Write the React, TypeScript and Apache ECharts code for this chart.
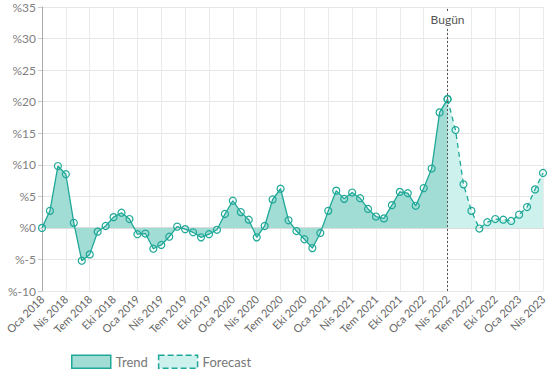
import React, { useEffect, useRef } from "react";
import * as echarts from "echarts";

const monthNames = ["Oca", "Şub", "Mar", "Nis", "May", "Haz", "Tem", "Ağu", "Eyl", "Eki", "Kas", "Ara"];
const categories: string[] = [];
for (let y = 2018; y <= 2023; y++) {
  for (let m = 0; m < 12; m++) {
    if (y === 2023 && m > 3) break;
    categories.push(`${monthNames[m]} ${y}`);
  }
}

const trendValues: number[] = [
  0, 2.7, 9.8, 8.5, 0.8, -5.2, -4.2, -0.6, 0.3, 1.7, 2.4, 1.4,
  -1.0, -0.9, -3.3, -2.7, -1.4, 0.2, -0.2, -0.7, -1.5, -1.0, -0.3, 2.2,
  4.3, 2.5, 1.3, -1.5, 0.3, 4.5, 6.2, 1.2, -0.5, -1.8, -3.2, -0.8,
  2.7, 5.9, 4.6, 5.6, 4.7, 3.0, 1.8, 1.5, 3.6, 5.7, 5.5, 3.5,
  6.3, 9.4, 18.3, 20.4,
];
const forecastValues: number[] = [
  20.4, 15.5, 6.9, 2.7, -0.1, 0.9, 1.4, 1.3, 1.1, 2.1, 3.3, 6.1, 8.7,
];
const todayLabel = "Nis 2022";
const yTicks = { min: -10, max: 35, interval: 5 };

const LINE = "#1fa898";
const TREND_FILL = "#a2ddd5";
const FORECAST_FILL = "#cdf1ec";
const FONT = "Lato";

export default function App() {
  const ref = useRef<HTMLDivElement>(null);
  useEffect(() => {
    if (!ref.current) return;
    const chart = echarts.init(ref.current, null, { renderer: "svg" });
    const todayIdx = categories.indexOf(todayLabel);
    const trendData = categories.map((_, i) => (i < trendValues.length ? trendValues[i] : null));
    const forecastData = categories.map((_, i) =>
      i >= todayIdx ? forecastValues[i - todayIdx] : null
    );
    chart.setOption({
      animation: false,
      textStyle: { fontFamily: FONT },
      grid: { left: 42, right: 6, top: 7, bottom: 89 },
      legend: {
        bottom: 6,
        left: 66,
        itemWidth: 39,
        itemHeight: 13,
        itemGap: 10,
        icon: "rect",
        textStyle: { color: "#777", fontSize: 13, fontFamily: FONT },
        data: [
          { name: "Trend", itemStyle: { color: TREND_FILL, borderColor: LINE, borderWidth: 1.5 } },
          {
            name: "Forecast",
            itemStyle: { color: FORECAST_FILL, borderColor: LINE, borderWidth: 1.5, borderType: "dashed" },
          },
        ],
      },
      xAxis: {
        type: "category",
        data: categories,
        boundaryGap: false,
        axisLine: { onZero: true, lineStyle: { color: "#dcdcdc", width: 2 } },
        axisTick: { show: false },
        axisLabel: {
          interval: 2,
          rotate: 45,
          color: "#666",
          fontSize: 11,
          fontFamily: FONT,
          margin: 6,
        },
        splitLine: { show: true, interval: 2, lineStyle: { color: "#ebebeb", width: 1 } },
      },
      yAxis: {
        type: "value",
        min: yTicks.min,
        max: yTicks.max,
        interval: yTicks.interval,
        axisLine: { show: true, lineStyle: { color: "#aaa", width: 1 } },
        axisTick: { show: true, length: 4, lineStyle: { color: "#ccc" } },
        axisLabel: {
          color: "#808080",
          fontSize: 12,
          fontFamily: FONT,
          margin: 6,
          formatter: (v: number) => "%" + v,
        },
        splitLine: { show: true, lineStyle: { color: "#e6e6e6", width: 1.2 } },
      },
      series: [
        {
          name: "Trend",
          type: "line",
          data: trendData,
          symbol: "circle",
          symbolSize: 7,
          showAllSymbol: true,
          itemStyle: { color: "rgba(0,0,0,0)", borderColor: LINE, borderWidth: 1.2 },
          lineStyle: { color: LINE, width: 1.3 },
          areaStyle: { color: TREND_FILL, opacity: 1 },
          z: 3,
          markLine: {
            silent: true,
            symbol: "none",
            lineStyle: { color: "#555", type: [2, 2], width: 1 },
            label: {
              show: true,
              position: "end",
              distance: -20,
              formatter: "Bugün",
              color: "#555",
              fontSize: 12,
              fontFamily: FONT,
              backgroundColor: "#fff",
              padding: [2, 3],
            },
            data: [{ xAxis: todayLabel }],
          },
        },
        {
          name: "Forecast",
          type: "line",
          data: forecastData,
          symbol: "circle",
          symbolSize: 7,
          showAllSymbol: true,
          itemStyle: { color: "rgba(0,0,0,0)", borderColor: LINE, borderWidth: 1.2 },
          lineStyle: { color: LINE, width: 1.3, type: [5, 4] },
          areaStyle: { color: FORECAST_FILL, opacity: 1 },
          z: 2,
        },
      ],
    });
    return () => chart.dispose();
  }, []);
  return <div ref={ref} style={{ width: 549, height: 380, position: "absolute", left: 0, top: 0 }} />;
}
